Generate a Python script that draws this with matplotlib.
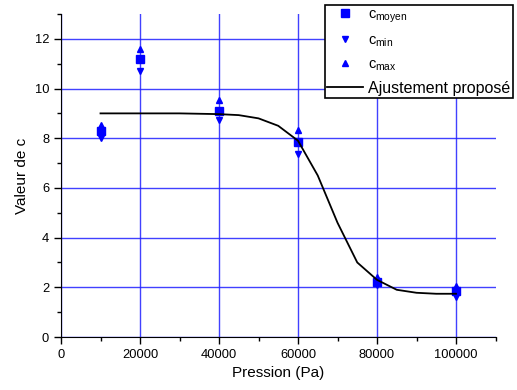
import numpy as np
import matplotlib.pyplot as plt
from matplotlib.ticker import MultipleLocator

plt.rcParams['font.family'] = ['Liberation Sans', 'DejaVu Sans']
plt.rcParams['mathtext.fontset'] = 'custom'
plt.rcParams['mathtext.rm'] = 'Liberation Sans'

pression = [10000, 20000, 40000, 60000, 80000, 100000]
c_moyen = [8.3, 11.17, 9.1, 7.85, 2.2, 1.85]
c_min = [8.0, 10.7, 8.75, 7.35, 2.1, 1.6]
c_max = [8.55, 11.6, 9.55, 8.35, 2.4, 2.05]

p_fit = [10000, 20000, 30000, 40000, 45000, 50000, 55000, 60000, 65000,
         70000, 75000, 80000, 85000, 90000, 95000, 100000]
c_fit = [9.0, 9.0, 9.0, 8.97, 8.93, 8.8, 8.5, 7.9, 6.5,
         4.6, 3.0, 2.3, 1.9, 1.78, 1.74, 1.74]

fig = plt.figure(figsize=(5.17, 3.90), dpi=100)
ax = fig.add_axes([61/517, 1-337/390, (495.5-61)/517, (337-14)/390])

ax.grid(True, which='major', color='#2020ff', lw=1.0, alpha=0.85)
ax.set_axisbelow(True)

ax.plot(pression, c_moyen, 's', color='#0000ff', ms=6, label=r'c$_{\mathrm{moyen}}$', zorder=3)
ax.plot(pression, c_min, 'v', color='#0000ff', ms=4.5, label=r'c$_{\mathrm{min}}$', zorder=3)
ax.plot(pression, c_max, '^', color='#0000ff', ms=4.5, label=r'c$_{\mathrm{max}}$', zorder=3)
ax.plot(p_fit, c_fit, '-', color='black', lw=1.3, label='Ajustement proposé', zorder=4)

ax.set_xlim(0, 110000)
ax.set_ylim(0, 13)
ax.xaxis.set_major_locator(MultipleLocator(20000))
ax.xaxis.set_minor_locator(MultipleLocator(10000))
ax.yaxis.set_major_locator(MultipleLocator(2))
ax.yaxis.set_minor_locator(MultipleLocator(1))
ax.tick_params(which='major', direction='out', length=5, width=1, labelsize=9.3)
ax.tick_params(which='minor', direction='out', length=3, width=1)
ax.spines['top'].set_visible(False)
ax.spines['right'].set_visible(False)

ax.set_xlabel('Pression (Pa)', fontsize=11)
ax.set_ylabel('Valeur de c', fontsize=11)

leg = fig.legend(loc='upper left', bbox_to_anchor=(325/517, 1-5/390),
                 fontsize=11.5, frameon=True, fancybox=False, edgecolor='black',
                 framealpha=1, borderpad=0.15, handlelength=2.25, handletextpad=0.3,
                 labelspacing=0.5, borderaxespad=0)
leg.get_frame().set_linewidth(1.2)
for t in leg.get_texts()[:3]:
    t.set_fontsize(10.5)

fig.savefig('out.png', dpi=100)
